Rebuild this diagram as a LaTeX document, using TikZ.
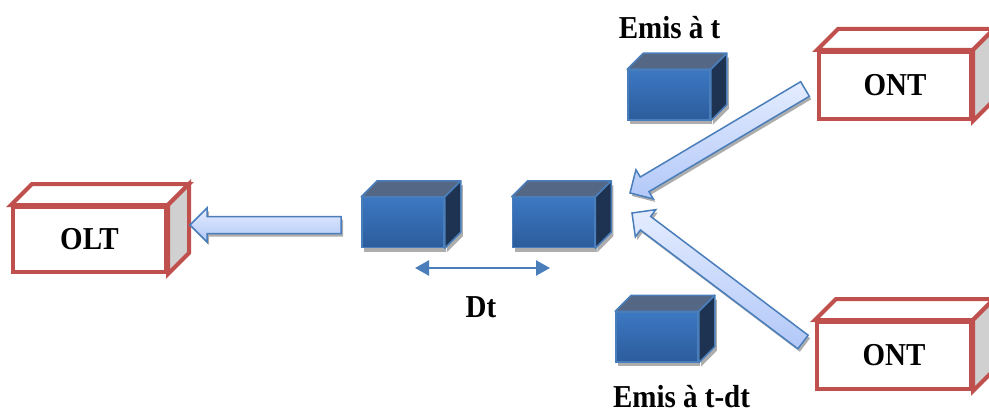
\documentclass[tikz,border=0pt]{standalone}
\usepackage{fontspec}
\setmainfont{Liberation Serif}
\usetikzlibrary{shapes,arrows.meta,positioning,shadows,calc}
\definecolor{boxred}{RGB}{192,80,77}
\definecolor{sidegray}{RGB}{208,208,208}
\definecolor{cubeedge}{RGB}{74,126,187}
\definecolor{cubetop}{RGB}{84,104,134}
\definecolor{cubeside}{RGB}{30,51,82}
\definecolor{cubelight}{RGB}{60,120,194}
\definecolor{cubedark}{RGB}{44,92,156}
\definecolor{arrowlight}{RGB}{228,236,255}
\definecolor{arrowdark}{RGB}{178,200,248}
\newcommand{\tall}[1]{\scalebox{1}[1.1]{#1}}

\tikzset{
  equip/.style={rectangle, draw=boxred, line width=4pt, fill=white, inner sep=0pt,
    font=\fontsize{29}{32}\selectfont\bfseries},
  equipface/.style={draw=boxred, line width=4pt, fill=white, line join=miter},
  cube/.style={rectangle, draw=cubeedge, line width=1.5pt, top color=cubelight, bottom color=cubedark,
    minimum width=82pt, minimum height=50pt,
    drop shadow={shadow xshift=2pt, shadow yshift=-4pt, fill=black!40, opacity=0.8}},
  cubeface/.style={draw=cubeedge, line width=1.5pt, line join=round},
  label/.style={font=\fontsize{29}{32}\selectfont\bfseries, inner sep=0pt, anchor=base},
  bigarrow/.style={draw=cubeedge, line width=1.5pt, line join=miter, top color=arrowlight, bottom color=arrowdark,
    drop shadow={shadow xshift=2pt, shadow yshift=-3pt, fill=black!40, opacity=0.8}},
  dtarrow/.style={draw=cubeedge, line width=2.5pt, {Triangle[length=14pt,width=15pt]}-{Triangle[length=14pt,width=15pt]}}
}

\begin{document}
\begin{tikzpicture}[x=1pt, y=-1pt]
\useasboundingbox (0,0) rectangle (989,412);

% OLT and ONT boxes
\node[equip, minimum width=153pt, minimum height=65pt] (olt) at (89.5,239.5) {\tall{OLT}};
\node[equip, minimum width=152pt, minimum height=67pt] (ont1) at (895,85.5) {\tall{ONT}};
\node[equip, minimum width=154pt, minimum height=67pt] (ont2) at (894,355.5) {\tall{ONT}};
\foreach \b in {olt,ont1,ont2} {
  \draw[equipface] (\b.north west) -- ++(21,-21) -- ($(\b.north east)+(21,-21)$) -- (\b.north east) -- cycle;
  \draw[equipface, fill=sidegray] (\b.north east) -- ++(21,-21) -- ($(\b.south east)+(21,-21)$) -- (\b.south east) -- cycle;
}

% frames in the fibre
\node[cube] (f1) at (403,222.5) {};
\node[cube] (f2) at (553.5,222.5) {};
\node[cube] (ft) at (669,95) {};
\node[cube] (fb) at (657,337) {};
\foreach \f in {f1,f2,ft,fb} {
  \draw[cubeface, fill=cubeside, drop shadow={shadow xshift=2pt, shadow yshift=-4pt, fill=black!40, opacity=0.8}]
    (\f.north east) -- ++(16,-16) -- ($(\f.south east)+(16,-16)$) -- (\f.south east) -- cycle;
  \draw[cubeface, fill=cubetop] (\f.north west) -- ++(16,-16) -- ($(\f.north east)+(16,-16)$) -- (\f.north east) -- cycle;
}

% block arrows
\coordinate (olttip) at (190,225);
\coordinate (oltend) at (341,225);
\coordinate (uptip) at (630,193);
\coordinate (upend) at (805,89);
\coordinate (lowtip) at (632,213);
\coordinate (lowend) at (803,342);
\foreach \t/\h in {oltend/olttip, upend/uptip, lowend/lowtip} {
  \coordinate (k) at ($(\h)!17pt!(\t)$);
  \draw[bigarrow] ($(\t)!8.5pt!90:(\h)$) -- ($(k)!8.5pt!-90:(\t)$) -- ($(k)!17pt!-90:(\t)$) -- (\h)
    -- ($(k)!17pt!90:(\t)$) -- ($(k)!8.5pt!90:(\t)$) -- ($(\t)!8.5pt!-90:(\h)$) -- cycle;
}

% delay between frames
\coordinate (dtl) at (415,268);
\coordinate (dtr) at (550,268);
\draw[dtarrow] (dtl) -- (dtr);

\node[label] (dt) at (481,317) {\tall{Dt}};
\node[label] (emt) at (669.5,39) {\tall{Emis à t}};
\node[label] (emdt) at (681.5,407) {\tall{Emis à t-dt}};
\end{tikzpicture}
\end{document}
